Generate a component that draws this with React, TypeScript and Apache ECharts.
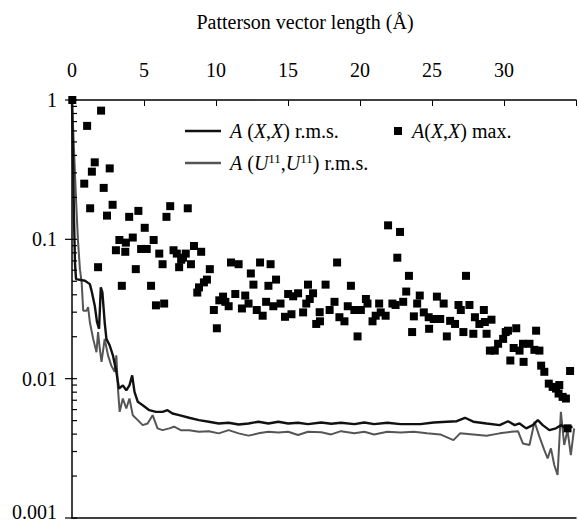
import React, { useEffect, useRef } from 'react';
import * as echarts from 'echarts';

const axisTitle = 'Patterson vector length (Å)';
const seriesNames = ['A (X,X) r.m.s.', 'A (U¹¹,U¹¹) r.m.s.', 'A(X,X) max.'];
const xMin = 0;
const xMax = 35;
const xInterval = 5;
const yMin = 0.001;
const yMax = 1;
const majorTickValues = [0.001, 0.01, 0.1, 1];
const minorTickValues = [
  0.002, 0.003, 0.004, 0.005, 0.006, 0.007, 0.008, 0.009,
  0.02, 0.03, 0.04, 0.05, 0.06, 0.07, 0.08, 0.09,
  0.2, 0.3, 0.4, 0.5, 0.6, 0.7, 0.8, 0.9,
];

const rmsXX: number[][] = [
  [0, 1], [0.07, 0.373], [0.14, 0.139], [0.21, 0.0663], [0.28, 0.0518], [0.9, 0.0504],
  [1.24, 0.0477], [1.36, 0.0427], [1.58, 0.0334], [1.74, 0.0254], [1.88, 0.0228],
  [2.0, 0.0452], [2.11, 0.0416], [2.27, 0.0254], [2.39, 0.0193], [2.62, 0.0173],
  [2.84, 0.0147], [3.08, 0.0112], [3.26, 0.00849], [3.53, 0.00896], [3.77, 0.00825],
  [3.99, 0.00896], [4.18, 0.01056], [4.34, 0.00803], [4.57, 0.00682], [4.91, 0.00645],
  [5.37, 0.00594], [5.83, 0.00578], [6.29, 0.00578], [6.63, 0.00594], [6.98, 0.00562],
  [7.44, 0.00547], [8.13, 0.00524], [8.82, 0.00504], [9.5, 0.00491], [10.19, 0.00477],
  [10.88, 0.00483], [11.57, 0.00469], [12.26, 0.00477], [12.95, 0.00491], [13.64, 0.00477],
  [14.33, 0.00491], [15.01, 0.00477], [15.7, 0.00483], [16.39, 0.00472], [17.31, 0.00485],
  [18.0, 0.00475], [18.68, 0.00483], [19.61, 0.00472], [20.3, 0.00485], [20.98, 0.00472],
  [21.9, 0.00483], [22.82, 0.00472], [24.19, 0.00472], [25.12, 0.00485], [26.03, 0.00491],
  [26.72, 0.00495], [27.29, 0.00524], [27.87, 0.00491], [28.79, 0.00477], [29.7, 0.00464],
  [30.28, 0.00495], [30.74, 0.00464], [31.08, 0.00477], [31.54, 0.0044], [32.0, 0.00464],
  [32.35, 0.00504], [32.69, 0.00464], [33.15, 0.00427], [33.61, 0.0044], [33.95, 0.00464],
  [34.3, 0.0044], [34.76, 0.00452],
];

const rmsU11: number[][] = [
  [0, 1], [0.14, 0.44], [0.28, 0.193], [0.41, 0.1], [0.55, 0.0611], [0.67, 0.0491],
  [0.78, 0.0307], [1.01, 0.0307], [1.12, 0.0326], [1.24, 0.0254], [1.47, 0.0193],
  [1.7, 0.0155], [1.81, 0.0216], [1.93, 0.0164], [2.05, 0.0132], [2.27, 0.0193],
  [2.5, 0.0147], [2.73, 0.0124], [2.96, 0.0112], [3.08, 0.0147], [3.19, 0.00849],
  [3.31, 0.00578], [3.53, 0.0072], [3.77, 0.00611], [3.99, 0.0072], [4.22, 0.00547],
  [4.57, 0.00504], [4.91, 0.00464], [5.25, 0.00477], [5.6, 0.00547], [5.94, 0.0044],
  [6.29, 0.00427], [6.75, 0.0044], [7.09, 0.00452], [7.55, 0.00427], [8.13, 0.00427],
  [8.82, 0.00416], [9.5, 0.0042], [10.19, 0.00405], [10.88, 0.00427], [11.57, 0.00405],
  [12.26, 0.0039], [12.95, 0.00405], [13.64, 0.00416], [14.33, 0.0041], [15.01, 0.00416],
  [15.7, 0.00394], [16.39, 0.00416], [17.31, 0.00412], [18.0, 0.00398], [18.68, 0.0042],
  [19.61, 0.00405], [20.3, 0.00416], [20.98, 0.00398], [21.9, 0.00416], [22.82, 0.0041],
  [23.74, 0.00416], [24.65, 0.00405], [25.57, 0.00398], [26.49, 0.00362], [26.95, 0.00405],
  [27.87, 0.00398], [28.79, 0.0039], [29.7, 0.00405], [30.51, 0.00416], [30.97, 0.0042],
  [31.31, 0.00343], [31.77, 0.00334], [32.12, 0.00491], [32.46, 0.00384], [32.8, 0.00307],
  [33.03, 0.00268], [33.26, 0.00316], [33.49, 0.0024], [33.72, 0.00204], [33.95, 0.00578],
  [34.18, 0.00334], [34.41, 0.00427], [34.64, 0.00283], [34.87, 0.0044],
];

const maxXX: number[][] = [
  [0.02, 1.0], [0.85, 0.251], [1.05, 0.652], [1.26, 0.167], [1.38, 0.306], [1.58, 0.357],
  [1.81, 0.0631], [2.02, 0.839], [2.2, 0.234], [2.43, 0.148], [2.62, 0.323], [2.82, 0.177],
  [3.05, 0.0835], [3.29, 0.0989], [3.46, 0.0464], [3.7, 0.0814], [3.74, 0.0947], [3.97, 0.145],
  [4.22, 0.103], [4.43, 0.0611], [4.61, 0.16], [4.8, 0.0853], [5.05, 0.121], [5.19, 0.0853],
  [5.49, 0.0464], [5.67, 0.0989], [5.83, 0.0336], [6.06, 0.079], [6.29, 0.0663], [6.4, 0.0346],
  [6.56, 0.145], [6.82, 0.173], [7.05, 0.0835], [7.28, 0.079], [7.44, 0.0631], [7.58, 0.0714],
  [7.71, 0.0738], [7.9, 0.079], [8.04, 0.167], [8.26, 0.0663], [8.47, 0.0896], [8.7, 0.0415],
  [8.82, 0.0452], [8.97, 0.0814], [9.16, 0.0491], [9.37, 0.0514], [9.57, 0.0611], [9.85, 0.0311],
  [10.06, 0.023], [10.23, 0.0365], [10.49, 0.0388], [10.65, 0.0356], [10.88, 0.0331],
  [11.04, 0.0682], [11.34, 0.0405], [11.57, 0.0663], [11.8, 0.0319], [12.03, 0.0395],
  [12.26, 0.0346], [12.42, 0.0569], [12.6, 0.0473], [12.83, 0.0311], [13.06, 0.0682],
  [13.24, 0.0283], [13.48, 0.0356], [13.64, 0.0464], [13.79, 0.0663], [13.98, 0.0331],
  [14.17, 0.0514], [14.48, 0.0346], [14.79, 0.0278], [15.01, 0.0405], [15.24, 0.029],
  [15.36, 0.039], [15.7, 0.041], [16.05, 0.0299], [16.27, 0.0346], [16.39, 0.0473],
  [16.51, 0.0373], [16.74, 0.041], [16.96, 0.0247], [17.2, 0.03], [17.22, 0.0258],
  [17.61, 0.0473], [17.89, 0.0311], [18.23, 0.0356], [18.41, 0.0682], [18.57, 0.0276],
  [18.92, 0.0258], [19.15, 0.0331], [19.37, 0.0464], [19.61, 0.0311], [19.83, 0.0201],
  [20.06, 0.0311], [20.41, 0.0373], [20.52, 0.0346], [20.87, 0.0258], [21.09, 0.0283],
  [21.33, 0.0346], [21.44, 0.0299], [21.78, 0.0283], [21.95, 0.126], [22.25, 0.0346],
  [22.47, 0.0338], [22.59, 0.0738], [22.78, 0.113], [23.0, 0.0356], [23.21, 0.0422],
  [23.4, 0.0547], [23.62, 0.0216], [23.74, 0.028], [23.97, 0.0346], [24.15, 0.0395],
  [24.43, 0.0299], [24.77, 0.0276], [24.8, 0.0228], [25.12, 0.0268], [25.34, 0.0388],
  [25.57, 0.0268], [25.81, 0.0346], [26.03, 0.0201], [26.26, 0.026], [26.6, 0.0247],
  [26.84, 0.0338], [27.0, 0.0311], [27.18, 0.0216], [27.36, 0.0547], [27.6, 0.0338],
  [27.87, 0.021], [27.98, 0.0276], [28.29, 0.0247], [28.6, 0.0311], [28.67, 0.0255],
  [28.79, 0.021], [29.02, 0.0159], [29.13, 0.0265], [29.36, 0.0159], [29.59, 0.0178],
  [29.94, 0.0193], [30.12, 0.0216], [30.28, 0.0221], [30.44, 0.0135], [30.67, 0.0166],
  [30.85, 0.023], [31.08, 0.0159], [31.32, 0.0178], [31.36, 0.0132], [31.77, 0.0178],
  [32.11, 0.0161], [32.23, 0.0221], [32.46, 0.0159], [32.58, 0.0124], [32.8, 0.0112],
  [33.11, 0.00921], [33.38, 0.00873], [33.61, 0.00849], [33.84, 0.009], [33.79, 0.00782],
  [34.07, 0.0074], [34.3, 0.0072], [34.59, 0.01135], [34.41, 0.0044],
];

const FONT = 'Liberation Serif';
const FS = 20;

function legendLabel(name: string): string {
  if (name === seriesNames[0]) return '{i|A} ({i|X},{i|X}) r.m.s.';
  if (name === seriesNames[1]) return '{i|A} ({i|U}{s|11},{i|U}{s|11}) r.m.s.';
  return '{i|A}({i|X},{i|X}) max.';
}

export default function App() {
  const ref = useRef<HTMLDivElement>(null);

  useEffect(() => {
    document.body.style.margin = '0';
    const chart = echarts.init(ref.current!, undefined, { renderer: 'svg' });
    const textStyle = {
      fontFamily: FONT,
      fontSize: FS,
      color: '#000',
      rich: {
        i: { fontFamily: FONT, fontSize: FS, fontStyle: 'italic', color: '#000' },
        s: { fontFamily: FONT, fontSize: 13, color: '#000', padding: [0, 0, 9, 0] },
      },
    };
    const tickData = [
      ...majorTickValues.map((v) => [0, v, 1]),
      ...minorTickValues.map((v) => [0, v, 0]),
    ];
    chart.setOption({
      animation: false,
      backgroundColor: '#fff',
      grid: { left: 72, top: 100, width: 508, height: 420 },
      graphic: [
        {
          type: 'text',
          x: 305,
          y: 22,
          style: {
            text: axisTitle,
            fontFamily: FONT,
            fontSize: FS,
            fill: '#000',
            align: 'center',
            verticalAlign: 'middle',
          },
        },
      ],
      legend: [
        {
          data: [
            { name: seriesNames[0], itemStyle: { color: '#111' } },
            { name: seriesNames[1], itemStyle: { color: '#555' } },
          ],
          orient: 'vertical',
          left: 180,
          top: 116,
          icon: 'rect',
          itemWidth: 36,
          itemHeight: 2.5,
          itemGap: 11,
          selectedMode: false,
          formatter: legendLabel,
          textStyle: { ...textStyle, padding: [0, 0, 0, 4] },
        },
        {
          data: [seriesNames[2]],
          left: 389,
          top: 116,
          icon: 'rect',
          itemWidth: 8,
          itemHeight: 8,
          selectedMode: false,
          formatter: legendLabel,
          itemStyle: { color: '#000', opacity: 1 },
          textStyle: { ...textStyle, padding: [0, 0, 0, 5] },
        },
      ],
      xAxis: [
        {
          type: 'value',
          position: 'top',
          min: xMin,
          max: xMax,
          interval: xInterval,
          axisLine: { show: true, onZero: false, lineStyle: { color: '#000', width: 1.5 } },
          axisTick: { show: true, inside: true, length: 6, lineStyle: { color: '#000', width: 1 } },
          axisLabel: {
            fontFamily: FONT,
            fontSize: FS,
            color: '#000',
            margin: 20,
            formatter: (v: number) => (v >= xMax ? '' : String(v)),
          },
          splitLine: { show: false },
        },
        {
          type: 'value',
          position: 'bottom',
          min: xMin,
          max: xMax,
          axisLine: { show: true, onZero: false, lineStyle: { color: '#000', width: 1.5 } },
          axisTick: { show: false },
          axisLabel: { show: false },
          splitLine: { show: false },
        },
      ],
      yAxis: {
        type: 'log',
        logBase: 10,
        min: yMin,
        max: yMax,
        axisLine: { show: true, onZero: false, lineStyle: { color: '#000', width: 1.5 } },
        axisTick: { show: false },
        axisLabel: {
          fontFamily: FONT,
          fontSize: FS,
          color: '#000',
          margin: 15,
          formatter: (v: number) => {
            const s = v >= 1 ? '1' : String(Number(v.toPrecision(1)));
            return v <= yMin * 1.0001 ? '{b|' + s + '}' : s;
          },
          rich: {
            b: { fontFamily: FONT, fontSize: FS, color: '#000', padding: [0, 0, 12, 0] },
          },
        },
        splitLine: { show: false },
      },
      series: [
        {
          name: seriesNames[2],
          type: 'scatter',
          data: maxXX,
          symbol: 'rect',
          symbolSize: 8,
          itemStyle: { color: '#000', opacity: 1 },
          z: 4,
        },
        {
          name: seriesNames[0],
          type: 'line',
          data: rmsXX,
          symbol: 'none',
          lineStyle: { color: '#111', width: 2.4 },
          itemStyle: { color: '#111' },
          z: 3,
        },
        {
          name: seriesNames[1],
          type: 'line',
          data: rmsU11,
          symbol: 'none',
          lineStyle: { color: '#555', width: 2 },
          itemStyle: { color: '#555' },
          z: 2,
        },
        {
          name: 'yTicks',
          type: 'custom',
          clip: false,
          silent: true,
          data: tickData,
          encode: { x: 0, y: 1 },
          renderItem: (params: any, api: any) => {
            const p = api.coord([api.value(0), api.value(1)]);
            const major = api.value(2) === 1;
            return {
              type: 'line',
              shape: { x1: major ? p[0] - 7 : p[0], y1: p[1], x2: p[0] + 5, y2: p[1] },
              style: { stroke: '#000', lineWidth: 1.2 },
            };
          },
          z: 5,
        },
      ],
    });
    return () => chart.dispose();
  }, []);

  return <div ref={ref} style={{ width: 579, height: 522 }} />;
}
